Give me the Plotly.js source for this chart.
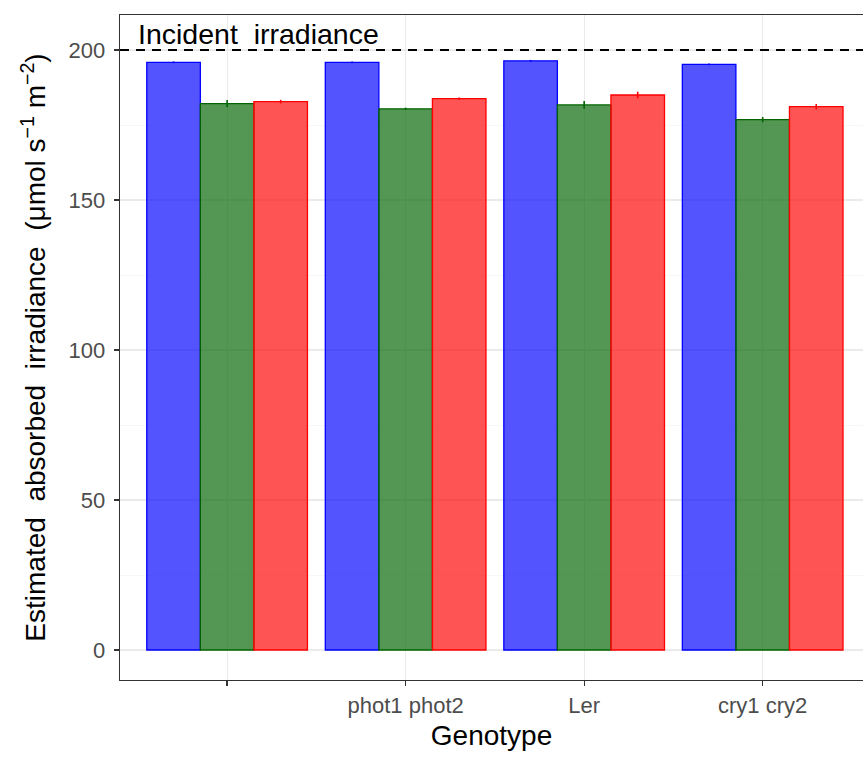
<!DOCTYPE html>
<html>
<head>
<meta charset="utf-8">
<script src="https://cdn.plot.ly/plotly-3.0.1.min.js"></script>
<style>html,body{margin:0;padding:0;background:#fff;}#chart{width:863px;height:761px;}</style>
</head>
<body>
<div id="chart"></div>
<script>
// Genotype categories (first tick label is blank in the reference)
const categories = ["g1", "phot1 phot2", "Ler", "cry1 cry2"];
const tickLabels = ["", "phot1 phot2", "Ler", "cry1 cry2"];
// Estimated absorbed irradiance by light colour
const blueVals  = [195.9, 195.9, 196.4, 195.2];
const blueErr   = [0.3, 0.3, 0.3, 0.3];
const greenVals = [182.1, 180.4, 181.7, 176.8];
const greenErr  = [1.2, 0.4, 1.3, 0.9];
const redVals   = [182.8, 183.8, 185.0, 181.1];
const redErr    = [0.6, 0.4, 1.1, 0.9];
const incident  = 200;

function barTrace(name, vals, errs, fill, line) {
  return {
    type: 'bar', name: name, x: categories, y: vals,
    marker: {color: fill, line: {color: line, width: 1.3}},
    error_y: {type: 'data', array: errs, visible: true, color: line, thickness: 1.6, width: 0},
    showlegend: false, hoverinfo: 'skip'
  };
}

const data = [
  barTrace('blue', blueVals, blueErr, 'rgba(0,0,255,0.67)', '#0000ff'),
  barTrace('green', greenVals, greenErr, 'rgba(0,100,0,0.67)', '#006400'),
  barTrace('red', redVals, redErr, 'rgba(255,0,0,0.67)', '#ff0000')
];

const layout = {
  width: 863, height: 761,
  margin: {l: 120, r: 0, t: 15, b: 81},
  paper_bgcolor: '#fff', plot_bgcolor: '#fff',
  font: {family: 'Liberation Sans, Arial, sans-serif', color: '#000'},
  barmode: 'group', bargap: 0.1, bargroupgap: 0,
  xaxis: {
    type: 'category', categoryorder: 'array', categoryarray: categories,
    tickmode: 'array', tickvals: categories, ticktext: tickLabels,
    range: [-0.6, 3.562],
    showline: true, linecolor: '#333', linewidth: 1.3, mirror: true,
    ticks: 'outside', ticklen: 5, tickwidth: 1.3, tickcolor: '#333',
    tickfont: {size: 22, color: '#4d4d4d'},
    showgrid: true, gridcolor: '#ebebeb', gridwidth: 1.2,
    zeroline: false,
    title: {text: 'Genotype', font: {size: 28, color: '#000'}, standoff: 8}
  },
  yaxis: {
    range: [-10, 211.67],
    tickmode: 'array', tickvals: [0, 50, 100, 150, 200],
    showline: true, linecolor: '#333', linewidth: 1.3, mirror: false,
    ticks: 'outside', ticklen: 5, tickwidth: 1.3, tickcolor: '#333',
    tickfont: {size: 22, color: '#4d4d4d'}, ticklabelstandoff: 4,
    showgrid: true, gridcolor: '#ebebeb', gridwidth: 1.2,
    minor: {tickmode: 'array', tickvals: [25, 75, 125, 175], showgrid: true, gridcolor: '#f3f3f3', gridwidth: 0.7, ticks: ''},
    zeroline: false,
    title: {text: 'Estimated  absorbed  irradiance  (μmol s<sup>−1</sup> m<sup>−2</sup>)', font: {size: 28, color: '#000'}, standoff: 14}
  },
  shapes: [{
    type: 'line', xref: 'paper', x0: 0, x1: 1, yref: 'y', y0: incident, y1: incident,
    line: {color: '#000', width: 2, dash: '9px,7px'}, layer: 'above'
  }],
  annotations: [{
    text: 'Incident  irradiance', xref: 'paper', x: 0.021, yref: 'y', y: incident,
    xanchor: 'left', yanchor: 'bottom', showarrow: false, yshift: -2,
    font: {size: 28.5, color: '#000'}
  }]
};

Plotly.newPlot('chart', data, layout, {displayModeBar: false, staticPlot: true});
</script>
</body>
</html>
